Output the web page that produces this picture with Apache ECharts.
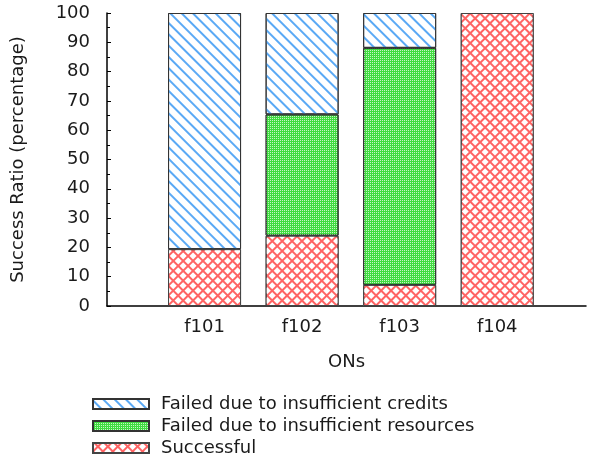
<!DOCTYPE html>
<html>
<head>
<meta charset="utf-8">
<script src="https://cdn.jsdelivr.net/npm/echarts@6/dist/echarts.min.js"></script>
<style>
html,body{margin:0;padding:0;background:#fff;}
#chart{width:589px;height:459px;}
</style>
</head>
<body>
<div id="chart"></div>
<script>
// Data
const categories = ['f101', 'f102', 'f103', 'f104'];
const categoryPositions = [1, 2, 3, 4];
const successful = [19.4, 24.0, 7.2, 100];
const failedResources = [0, 41.4, 80.9, 0];
const failedCredits = [80.6, 34.6, 11.9, 0];
const seriesNames = ['Failed due to insufficient credits', 'Failed due to insufficient resources', 'Successful'];
const yTicks = [0, 10, 20, 30, 40, 50, 60, 70, 80, 90, 100];

const FONT = 'DejaVu Sans';
const TXT = '#1a1a1a';

// value first, position second (so the value dimension is the stacked one);
// zero-height segments are left empty so they draw no border line
function pts(vals) { return vals.map((v, i) => [v === 0 ? '-' : v, categoryPositions[i]]); }

const chart = echarts.init(document.getElementById('chart'), null, { renderer: 'canvas' });

const barBase = {
  type: 'bar',
  stack: 'total',
  barWidth: 73,
  encode: { x: 1, y: 0 },
  emphasis: { disabled: true }
};

chart.setOption({
  animation: false,
  backgroundColor: '#ffffff',
  textStyle: { fontFamily: FONT, color: TXT },
  grid: { left: 107, top: 13, right: 1, bottom: 153 },
  legend: {
    orient: 'vertical',
    left: 92,
    top: 395,
    padding: 0,
    itemWidth: 56,
    itemHeight: 10,
    itemGap: 4,
    icon: 'rect',
    data: seriesNames,
    textStyle: { fontFamily: FONT, fontSize: 18, color: TXT, lineHeight: 18, padding: [0, 0, 0, 7] }
  },
  xAxis: {
    type: 'value',
    min: 0,
    max: 4.91,
    interval: 1,
    name: 'ONs',
    nameLocation: 'middle',
    nameGap: 47,
    nameTextStyle: { fontFamily: FONT, fontSize: 18, color: TXT },
    axisLine: { show: true, lineStyle: { color: '#000', width: 1.5 } },
    axisTick: { show: false },
    splitLine: { show: false },
    axisLabel: {
      fontFamily: FONT, fontSize: 18, color: TXT, margin: 12,
      formatter: function (v) {
        const i = categoryPositions.indexOf(v);
        return i >= 0 ? categories[i] : '';
      }
    }
  },
  yAxis: {
    type: 'value',
    min: yTicks[0],
    max: yTicks[yTicks.length - 1],
    interval: 10,
    name: 'Success Ratio (percentage)',
    nameLocation: 'middle',
    nameGap: 80,
    nameTextStyle: { fontFamily: FONT, fontSize: 18, color: TXT },
    axisLine: { show: true, lineStyle: { color: '#000', width: 1.5 } },
    axisTick: { show: true, inside: true, length: 4, lineStyle: { color: '#000', width: 1 } },
    minorTick: { show: true, splitNumber: 2, length: 3, lineStyle: { color: '#000', width: 1 } },
    splitLine: { show: false },
    axisLabel: { fontFamily: FONT, fontSize: 18, color: TXT, margin: 17 }
  },
  series: [
    Object.assign({}, barBase, {
      name: seriesNames[2],
      data: pts(successful),
      itemStyle: {
        color: '#ff6464',
        borderColor: '#444',
        borderWidth: 1,
        decal: {
          symbol: 'rect',
          symbolSize: 1,
          color: '#ffffff',
          dashArrayX: [4.65, 1.05],
          dashArrayY: [4.65, 1.05],
          rotation: Math.PI / 4
        }
      }
    }),
    Object.assign({}, barBase, {
      name: seriesNames[1],
      data: pts(failedResources),
      itemStyle: {
        color: '#40dc40',
        borderColor: '#333',
        borderWidth: 1,
        decal: {
          symbol: 'rect',
          symbolSize: 1,
          color: 'rgba(255,255,255,0.7)',
          dashArrayX: [1, 1],
          dashArrayY: [1, 1],
          rotation: 0
        }
      }
    }),
    Object.assign({}, barBase, {
      name: seriesNames[0],
      data: pts(failedCredits),
      itemStyle: {
        color: '#ffffff',
        borderColor: '#333',
        borderWidth: 1,
        decal: {
          symbol: 'rect',
          symbolSize: 1,
          color: '#5aa9f5',
          dashArrayX: [1, 0],
          dashArrayY: [1.5, 5.5],
          rotation: Math.PI / 4
        }
      }
    })
  ]
});
</script>
</body>
</html>
